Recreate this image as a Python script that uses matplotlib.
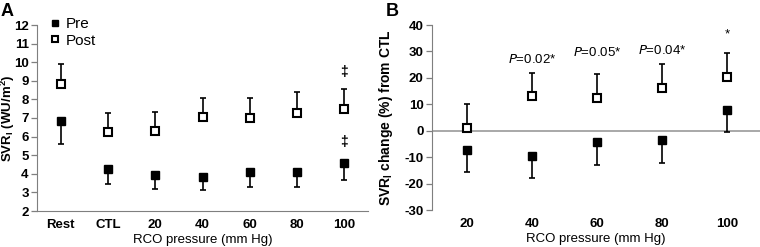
import matplotlib
matplotlib.use("Agg")
import matplotlib.pyplot as plt
import numpy as np

plt.rcParams['font.family'] = ['Liberation Sans', 'DejaVu Sans']
plt.rcParams['axes.unicode_minus'] = False

# Panel A data
cats_a = ["Rest", "CTL", "20", "40", "60", "80", "100"]
pre_a = [6.85, 4.25, 3.95, 3.85, 4.1, 4.1, 4.6]
pre_a_err = [1.25, 0.8, 0.75, 0.7, 0.8, 0.8, 0.95]
post_a = [8.85, 6.25, 6.3, 7.05, 7.0, 7.25, 7.5]
post_a_err = [1.05, 1.0, 1.0, 1.05, 1.1, 1.15, 1.05]
yticks_a = [2, 3, 4, 5, 6, 7, 8, 9, 10, 11, 12]

# Panel B data
cats_b = ["20", "40", "60", "80", "100"]
pre_b = [-7.3, -9.5, -4.2, -3.7, 8.0]
pre_b_err = [8.5, 8.5, 8.8, 8.6, 8.5]
post_b = [1.0, 13.2, 12.2, 16.2, 20.5]
post_b_err = [9.0, 8.8, 9.1, 9.1, 9.0]
yticks_b = [-30, -20, -10, 0, 10, 20, 30, 40]
annot_b = ["", "P=0.02*", "P=0.05*", "P=0.04*", "*"]
annot_b_y = [None, 27.0, 29.5, 30.5, 36.5]

W, H = 760, 247
fig = plt.figure(figsize=(W / 100, H / 100), dpi=100)

spine_col = "#7f7f7f"
ms = 6.2
tfs = 9.5

def style_axis(ax):
    for s in ["top", "right"]:
        ax.spines[s].set_visible(False)
    ax.spines["left"].set_color(spine_col)
    ax.spines["bottom"].set_color(spine_col)
    ax.tick_params(axis="y", direction="out", length=4, color=spine_col, width=0.9, pad=2)
    ax.tick_params(axis="x", length=0, pad=6)
    for lab in ax.get_xticklabels() + ax.get_yticklabels():
        lab.set_fontweight("bold")
        lab.set_fontsize(tfs)

# ---- Panel A ----
axA = fig.add_axes([37 / W, 1 - 211 / H, (368 - 37) / W, (211 - 25) / H])
xa = np.arange(len(cats_a))
axA.errorbar(xa, pre_a, yerr=[pre_a_err, [0] * len(xa)], fmt="none", ecolor="black",
             elinewidth=1.2, capsize=2.5, capthick=1.2, zorder=2)
axA.errorbar(xa, post_a, yerr=[[0] * len(xa), post_a_err], fmt="none", ecolor="black",
             elinewidth=1.2, capsize=2.5, capthick=1.2, zorder=2)
axA.plot(xa, pre_a, "s", color="black", ms=ms, zorder=3, label="Pre")
axA.plot(xa, post_a, "s", mfc="white", mec="black", mew=1.5, ms=ms, zorder=3, label="Post")
axA.set_xlim(-0.5, len(cats_a) - 0.5)
axA.set_ylim(2, 12)
axA.set_yticks(yticks_a)
axA.set_xticks(xa)
axA.set_xticklabels(cats_a)
style_axis(axA)
axA.set_xlabel("RCO pressure (mm Hg)", fontsize=9.5, labelpad=2)
axA.set_ylabel("SVR$_\\mathregular{I}$ (WU/m$^\\mathregular{2}$)", fontsize=9.5, fontweight="bold")
axA.yaxis.set_label_coords(-20 / (368 - 37), 0.5)
axA.text(6, 9.45, "‡", ha="center", va="center", fontsize=10, fontweight="bold")
axA.text(6, 5.7, "‡", ha="center", va="center", fontsize=10, fontweight="bold")
leg = axA.legend(loc="upper left", bbox_to_anchor=(0.0, 1.09), frameon=False, fontsize=11,
                 handletextpad=0.05, borderaxespad=0.2, labelspacing=0.15, handlelength=1.2,
                 markerscale=0.8)
fig.text(1 / W, 1 - 11 / H, "A", fontsize=13, fontweight="bold", va="center", ha="left")

# ---- Panel B ----
axB = fig.add_axes([432 / W, 1 - 210 / H, (760 - 432) / W, (210 - 25) / H])
xb = np.arange(len(cats_b))
axB.axhline(0, color="#999999", lw=1.2, zorder=1)
axB.errorbar(xb, pre_b, yerr=[pre_b_err, [0] * len(xb)], fmt="none", ecolor="black",
             elinewidth=1.2, capsize=2.5, capthick=1.2, zorder=2)
axB.errorbar(xb, post_b, yerr=[[0] * len(xb), post_b_err], fmt="none", ecolor="black",
             elinewidth=1.2, capsize=2.5, capthick=1.2, zorder=2)
axB.plot(xb, pre_b, "s", color="black", ms=ms, zorder=3)
axB.plot(xb, post_b, "s", mfc="white", mec="black", mew=1.5, ms=ms, zorder=3)
axB.set_xlim(-0.54, len(cats_b) - 0.5)
axB.set_ylim(-30, 40)
axB.set_yticks(yticks_b)
axB.set_xticks(xb)
axB.set_xticklabels(cats_b)
style_axis(axB)
axB.spines["bottom"].set_visible(False)
axB.set_xlabel("RCO pressure (mm Hg)", fontsize=9.5, labelpad=2)
axB.set_ylabel("SVR$_\\mathregular{I}$ change (%) from CTL", fontsize=10, fontweight="bold")
axB.yaxis.set_label_coords(-37 / (760 - 432), 0.5)
for x, t, y in zip(xb, annot_b, annot_b_y):
    if not t:
        continue
    if t.startswith("P"):
        axB.text(x, y, "$\\mathit{P}$" + t[1:], ha="center", va="center", fontsize=9.5)
    else:
        axB.text(x, y, t, ha="center", va="center", fontsize=9.5)
fig.text(386 / W, 1 - 11 / H, "B", fontsize=13, fontweight="bold", va="center", ha="left")

fig.savefig("out.png", dpi=100)
